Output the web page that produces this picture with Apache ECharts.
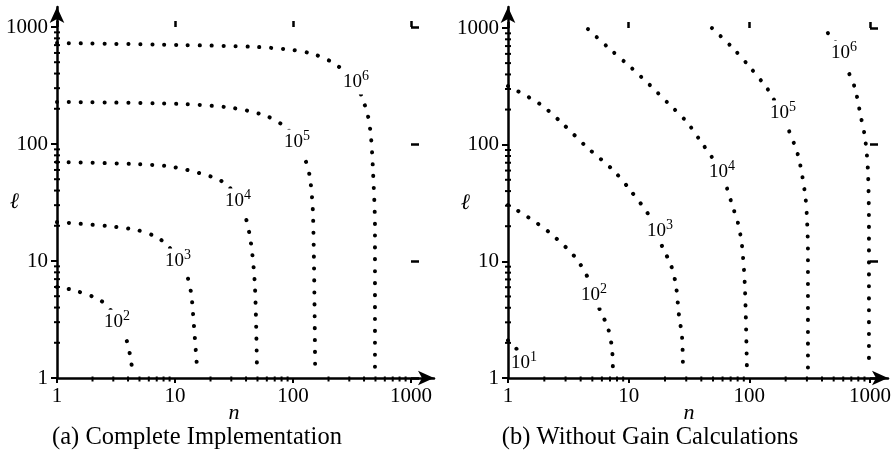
<!DOCTYPE html>
<html><head><meta charset="utf-8">
<script src="https://cdn.jsdelivr.net/npm/echarts@6/dist/echarts.min.js"></script>
<style>html,body{margin:0;padding:0;background:#fff}#c{width:892px;height:455px}</style>
</head><body><div id="c"></div>
<script>
// ---- data (n, l) ----
const tickValues = [1, 10, 100, 1000];
const minorTickValues = [2,3,4,5,6,7,8,9,20,30,40,50,60,70,80,90,200,300,400,500,600,700,800,900];

const leftExponents = [2, 3, 4, 5, 6];
const leftC2 = [[1,6.0],[1.37,5.65],[2.31,4.64],[2.98,3.6],[3.3,3.0],[3.77,2.33],[4.16,1.57],[4.4,1.06]];
const leftC3 = [[1,21.5],[2.65,19.9],[4.76,18.4],[7.0,16],[8.55,13.7],[10.8,10.3],[12.6,7.6],[13.7,5.3],[14.2,3.6],[15.4,1.2]];
const leftC4 = [[1,70],[4.4,67.5],[9.6,63.6],[21,52],[27.6,44.7],[34,34],[39.2,24.7],[44,14.3],[47.6,6],[49.5,1.2]];
const leftC5 = [[1,229],[11,220],[31,203],[60,173],[85.5,140],[108,106],[124,79],[139,52],[148,23.8],[154,1.2]];
const leftC6 = [[1,730],[11,702],[49.5,675],[100,635],[148,588],[206,512],[265,429],[340,330],[384,252],[432,173],[458,115],[476,60],[495,19.5],[495,1.2]];
const leftLabelAt = [[3.22,3.0],[10.6,10],[34.2,32.6],[108,104],[342,339]];

const rightExponents = [1, 2, 3, 4, 5, 6];
const rightC1 = [[1,2.1],[1.12,1.88],[1.25,1.64],[1.36,1.4],[1.45,1.2]];
const rightC2 = [[1,30.4],[1.46,24],[2.23,17.5],[3.59,10.9],[4.6,7.2],[5.16,5.1],[5.78,3.83],[6.74,2.68],[7.27,1.81],[7.4,1.2]];
const rightC3 = [[1,318],[1.84,223],[2.86,150],[4.51,95],[7.42,60.6],[10.3,40.8],[15,24],[19.2,13],[22.4,9.3],[24.6,6.3],[26.1,3.47],[27.7,2.24],[28.2,1.15]];
const rightC4 = [[4.6,979],[7.0,659],[10.6,453],[15,324],[21.2,227],[30.4,156],[40.5,103],[49,78],[59,58],[65.2,42.5],[73,29.2],[80.5,21.3],[86.8,13.8],[91.9,6.0],[95.5,1.2]];
const rightC5 = [[49,1000],[73,673],[101,462],[140,305],[157,250],[190,187],[209,139],[253,81.5],[289,38.5],[300,24],[306,12],[306,1.2]];
const rightC6 = [[448,904],[493,804],[608,609],[656,436],[750,305],[841,172],[908,116],[961,60.5],[980,19.7],[980,1.2]];
const rightLabelAt = [[1.36,1.34],[5.16,5.14],[18.2,18.2],[59.3,58.2],[190,187],[608,609]];

const captions = ['(a) Complete Implementation', '(b) Without Gain Calculations'];
const xName = 'n';
const yName = '\u2113';

// ---- layout ----
const FONT = '"Liberation Serif", "Times New Roman", serif';
const panels = [
  { d:{left:57, top:27, width:354, height:351}, a:{left:57, top:7, width:377, height:371},
    curves:[leftC2,leftC3,leftC4,leftC5,leftC6], labels:leftLabelAt, exps:leftExponents, caption:captions[0], capX:197 },
  { d:{left:508, top:28, width:362, height:350}, a:{left:508, top:7, width:380, height:371},
    curves:[rightC1,rightC2,rightC3,rightC4,rightC5,rightC6], labels:rightLabelAt, exps:rightExponents, caption:captions[1], capX:650 }
];

const grid = [], xAxis = [], yAxis = [], series = [], graphic = [];
const black = '#000';
const fmt = v => String(Math.round(v));

panels.forEach((p, i) => {
  const gD = grid.length; grid.push(Object.assign({containLabel:false, outerBoundsMode:'none'}, p.d));
  const gA = grid.length; grid.push(Object.assign({containLabel:false, outerBoundsMode:'none'}, p.a));
  const xi = xAxis.length, yi = yAxis.length;
  // data axes
  xAxis.push({type:'log', logBase:10, gridIndex:gD, min:1, max:1000, position:'bottom',
    axisLine:{show:false}, axisTick:{show:true, length:5, lineStyle:{width:2, color:black}},
    axisLabel:{fontFamily:FONT, fontSize:21, color:black, margin:8, formatter:fmt},
    splitLine:{show:false}, name:xName, nameLocation:'middle', nameGap:24, nameMoveOverlap:false,
    nameTextStyle:{fontFamily:FONT, fontStyle:'italic', fontSize:22, color:black}});
  xAxis.push({type:'log', logBase:10, gridIndex:gD, min:1, max:1000, position:'top',
    axisLine:{show:false}, axisTick:{show:true, length:6, lineStyle:{width:2.5, color:black}},
    axisLabel:{show:false}, splitLine:{show:false}});
  xAxis.push({type:'value', gridIndex:gA, min:0, max:1,
    axisLine:{show:true, symbol:['none','arrow'], symbolSize:[11,16], lineStyle:{width:2.5, color:black}},
    axisTick:{show:false}, axisLabel:{show:false}, splitLine:{show:false}});
  yAxis.push({type:'log', logBase:10, gridIndex:gD, min:1, max:1000, position:'left',
    axisLine:{show:false}, axisTick:{show:true, length:6, lineStyle:{width:2, color:black}},
    axisLabel:{fontFamily:FONT, fontSize:21, color:black, margin:9, formatter:fmt},
    splitLine:{show:false}, name:yName, nameLocation:'middle', nameGap:38, nameRotate:0, nameMoveOverlap:false,
    nameTextStyle:{fontFamily:FONT, fontStyle:'italic', fontSize:22, color:black}});
  yAxis.push({type:'log', logBase:10, gridIndex:gD, min:1, max:1000, position:'right',
    axisLine:{show:false}, axisTick:{show:true, length:8, lineStyle:{width:2.5, color:black}},
    axisLabel:{show:false}, splitLine:{show:false}});
  yAxis.push({type:'value', gridIndex:gA, min:0, max:1,
    axisLine:{show:true, symbol:['none','arrow'], symbolSize:[11,16], lineStyle:{width:2.5, color:black}},
    axisTick:{show:false}, axisLabel:{show:false}, splitLine:{show:false}});

  // contour lines
  p.curves.forEach(c => {
    series.push({type:'line', xAxisIndex:xi, yAxisIndex:yi, data:c, smooth:0.3,
      showSymbol:false, symbol:'none', silent:true, animation:false, clip:false, z:2,
      lineStyle:{color:black, width:4, type:[0.1, 11.8], cap:'round'}});
  });
  // contour labels
  series.push({type:'scatter', xAxisIndex:xi, yAxisIndex:yi, data:p.labels, symbolSize:1,
    itemStyle:{color:'rgba(0,0,0,0)', opacity:1}, silent:true, animation:false, clip:false, z:5,
    label:{show:true, position:'inside', backgroundColor:'#fff', padding:[0,1,0,1], opacity:1,
      formatter: q => '{b|10}{s|' + p.exps[q.dataIndex] + '}',
      rich:{ b:{fontFamily:FONT, fontSize:19, color:black},
             s:{fontFamily:FONT, fontSize:14, color:black, padding:[0,0,11,0]} }}});
  // minor ticks on axes
  series.push({type:'scatter', xAxisIndex:xi, yAxisIndex:yi, data:minorTickValues.map(v => [v, 1]),
    symbol:'rect', symbolSize:[2,5], symbolOffset:[0,1], itemStyle:{color:black, opacity:1},
    silent:true, animation:false, clip:false, z:3});
  series.push({type:'scatter', xAxisIndex:xi, yAxisIndex:yi, data:minorTickValues.map(v => [1, v]),
    symbol:'rect', symbolSize:[6,2], itemStyle:{color:black, opacity:1},
    silent:true, animation:false, clip:false, z:3});

  graphic.push({type:'text', x:p.capX, y:438,
    style:{text:p.caption, font:'24.5px ' + FONT, fill:black, textAlign:'center', textVerticalAlign:'middle'}});
});

const chart = echarts.init(document.getElementById('c'), null, {renderer:'canvas'});
chart.setOption({animation:false, backgroundColor:'#fff', grid, xAxis, yAxis, series, graphic});
</script>
</body></html>
